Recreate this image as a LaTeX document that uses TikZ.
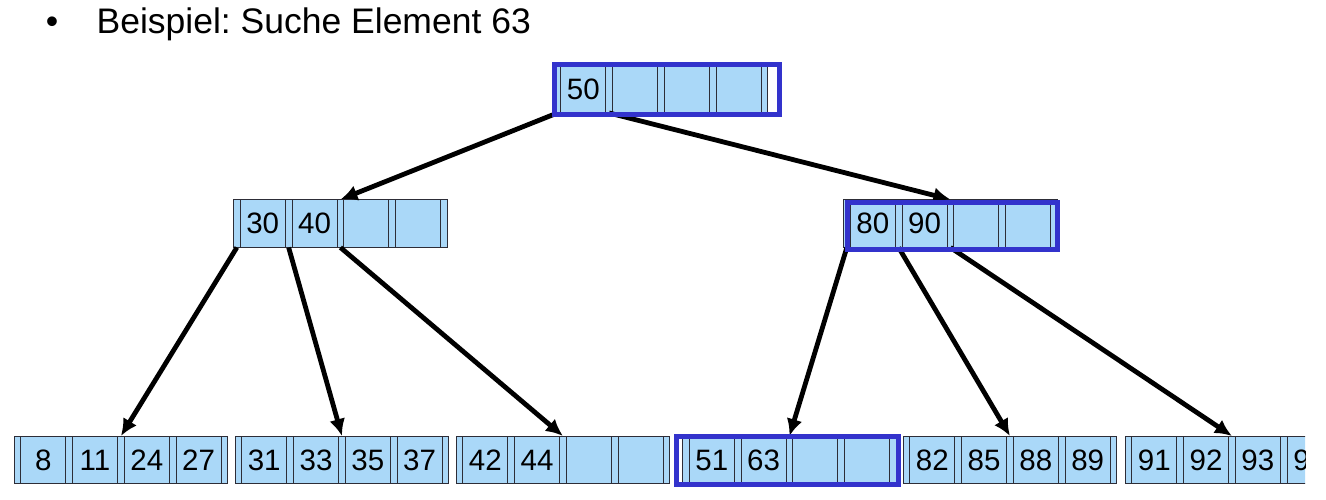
\documentclass[tikz,border=0pt]{standalone}
\usepackage{fontspec}
\setmainfont{Liberation Sans}
\usetikzlibrary{arrows.meta}
\definecolor{cellfill}{RGB}{170,216,248}
\definecolor{cellline}{RGB}{45,45,55}
\definecolor{hlblue}{RGB}{51,51,204}
\frenchspacing
\tikzset{
  pslot/.style={rectangle, draw=cellline, fill=cellfill, line width=1pt,
    minimum width=6.7pt, minimum height=47pt, inner sep=0pt},
  kcell/.style={rectangle, draw=cellline, fill=cellfill, line width=1pt,
    minimum width=45.1pt, minimum height=47pt, inner sep=0pt,
    font=\fontsize{29.5}{34}\selectfont, text depth=0pt},
  ptr/.style={line width=4.8pt, -{Latex[length=17pt,width=16pt]}},
  hl/.style={draw=hlblue, line width=4.8pt}
}
\newcommand\btnode[7]{%
  \begin{scope}[shift={(#2,#3)}]
    \node[pslot] (#1p1) at (3.35,23.5) {};
    \node[kcell] (#1k1) at (29.25,23.5) {#4};
    \node[pslot] (#1p2) at (55.15,23.5) {};
    \node[kcell] (#1k2) at (81.05,23.5) {#5};
    \node[pslot] (#1p3) at (106.95,23.5) {};
    \node[kcell] (#1k3) at (132.85,23.5) {#6};
    \node[pslot] (#1p4) at (158.75,23.5) {};
    \node[kcell] (#1k4) at (184.65,23.5) {#7};
    \node[pslot] (#1p5) at (210.55,23.5) {};
  \end{scope}}
\begin{document}
\begin{tikzpicture}[x=1pt,y=-1pt]
\useasboundingbox (0,0) rectangle (1326,500);
\clip (0,0) rectangle (1305,500);
% title
\node[anchor=base, font=\fontsize{35.5}{40}\selectfont] (bul) at (52,34) {\textbullet};
\node[anchor=base west, inner sep=0pt, font=\fontsize{35.5}{40}\selectfont] (title) at (96.5,34) {Beispiel: Suche Element 63};
% nodes
\btnode{r}{554}{65.5}{50}{}{}{}
\btnode{a}{233.5}{200}{30}{40}{}{}
\btnode{b}{843.5}{200}{80}{90}{}{}
\btnode{l1}{14}{436.5}{8}{11}{24}{27}
\btnode{l2}{235}{436.5}{31}{33}{35}{37}
\btnode{l3}{456}{436.5}{42}{44}{}{}
\btnode{l4}{682.5}{436.5}{51}{63}{}{}
\btnode{l5}{903}{436.5}{82}{85}{88}{89}
\btnode{l6}{1125}{436.5}{91}{92}{93}{94}
% pointers
\draw[ptr] (rp1.south) -- (ap3.north);
\draw[ptr] (rp2.south) -- (bp3.north);
\draw[ptr] (ap1.south) -- (l1p3.north);
\draw[ptr] (ap2.south) -- (l2p3.north);
\draw[ptr] (ap3.south) -- (l3p3.north);
\draw[ptr] (bp1.south) -- (l4p3.north);
\draw[ptr] (bp2.south) -- (l5p3.north);
\draw[ptr] (bp3.south) -- (l6p3.north);
% search path highlights
\draw[hl] (554.5,64.5) rectangle (779.5,114.5);
\draw[hl] (847.5,202.5) rectangle (1057.5,249.5);
\draw[hl] (676.5,436.5) rectangle (898.5,484.5);
\end{tikzpicture}
\end{document}
